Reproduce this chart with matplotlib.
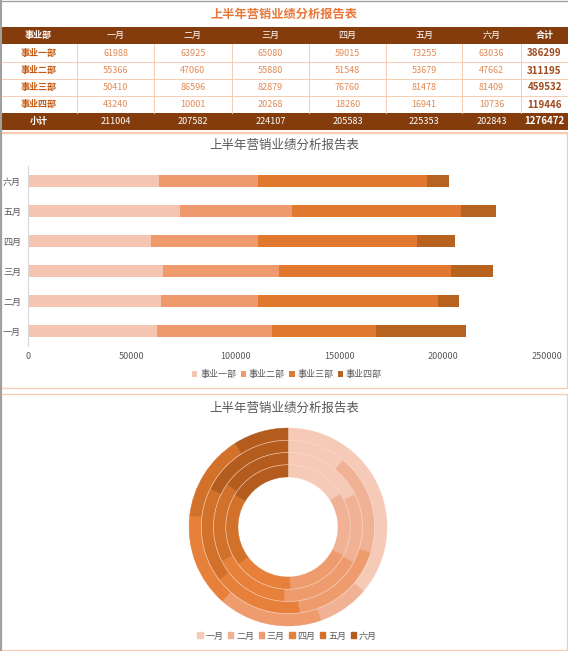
import numpy as np
import matplotlib
matplotlib.use("Agg")
import matplotlib.pyplot as plt
from matplotlib.patches import Rectangle, Patch, Circle

plt.rcParams['font.family'] = ['Noto Sans CJK SC', 'DejaVu Sans']

title = "上半年营销业绩分析报告表"
months = ["一月", "二月", "三月", "四月", "五月", "六月"]
depts = ["事业一部", "事业二部", "事业三部", "事业四部"]
sales_1 = [61988, 63925, 65080, 59015, 73255, 63036]
sales_2 = [55366, 47060, 55880, 51548, 53679, 47662]
sales_3 = [50410, 86596, 82879, 76760, 81478, 81409]
sales_4 = [43240, 10001, 20268, 18260, 16941, 10736]

data = np.array([sales_1, sales_2, sales_3, sales_4])
row_tot = data.sum(axis=1)
col_tot = data.sum(axis=0)

dept_colors = ["#F4C6B1", "#EF9A6C", "#E1782F", "#B8621F"]
month_colors = ["#F5CAB7", "#F1B195", "#EE9B6E", "#E6803A", "#D2712A", "#B45C1E"]
brown = "#843C0C"
peach = "#F6CDB4"

W, H = 568, 651
fig = plt.figure(figsize=(W / 100, H / 100), dpi=100)
bg = fig.add_axes([0, 0, 1, 1])
bg.set_xlim(0, W)
bg.set_ylim(H, 0)
bg.axis("off")

# ---- table ----
bg.text(W / 2, 14, title, ha="center", va="center", fontsize=8.8, fontweight="bold", color="#E8773A")
col_edges = [0, 77, 154, 232, 309, 386, 462, 521, 568]
row_edges = [27, 44, 62, 79, 96, 113, 130]
bg.add_patch(Rectangle((0, row_edges[0]), W, row_edges[1] - row_edges[0], color=brown, lw=0))
bg.add_patch(Rectangle((0, row_edges[5]), W, row_edges[6] - row_edges[5], color=brown, lw=0))
for y in row_edges[2:5]:
    bg.plot([0, W], [y, y], color=peach, lw=0.7)
for x in col_edges[1:-1]:
    bg.plot([x, x], [row_edges[1], row_edges[5]], color=peach, lw=0.7)
bg.plot([0, W], [row_edges[6] + 2, row_edges[6] + 2], color=peach, lw=1)

def cx(i):
    return (col_edges[i] + col_edges[i + 1]) / 2

def cy(j):
    return (row_edges[j] + row_edges[j + 1]) / 2

header = ["事业部"] + months + ["合计"]
for i, h in enumerate(header):
    bg.text(cx(i), cy(0), h, ha="center", va="center", fontsize=6.5, color="white",
            fontweight="bold" if i in (0, 7) else "normal")
for j, d in enumerate(depts):
    bg.text(cx(0), cy(j + 1), d, ha="center", va="center", fontsize=6.5, color="#C55A11", fontweight="bold")
    for i in range(6):
        bg.text(cx(i + 1), cy(j + 1), str(data[j, i]), ha="center", va="center", fontsize=6.5, color="#E08A55")
    bg.text(cx(7), cy(j + 1), str(row_tot[j]), ha="center", va="center", fontsize=7, color="#9E4A1C", fontweight="bold")
bg.text(cx(0), cy(5), "小计", ha="center", va="center", fontsize=6.5, color="white", fontweight="bold")
for i in range(6):
    bg.text(cx(i + 1), cy(5), str(col_tot[i]), ha="center", va="center", fontsize=6.5, color="white")
bg.text(cx(7), cy(5), str(row_tot.sum()), ha="center", va="center", fontsize=7, color="white", fontweight="bold")

# panel borders
bg.add_patch(Rectangle((1, 133), W - 2, 255, fill=False, ec=peach, lw=1))
bg.add_patch(Rectangle((1, 394), W - 2, 256, fill=False, ec=peach, lw=1))
bg.plot([0.5, 0.5], [0, H], color="#A0A0A0", lw=1.5)
bg.plot([0, W], [0.5, 0.5], color="#A0A0A0", lw=1)

# ---- stacked bar chart ----
bg.text(W / 2, 145, title, ha="center", va="center", fontsize=9, color="#595959")
ax = fig.add_axes([28 / W, 1 - 346 / H, 519 / W, 180 / H])
y = np.arange(len(months))
left = np.zeros(len(months))
for k in range(len(depts)):
    ax.barh(y, data[k], height=0.4, left=left, color=dept_colors[k], label=depts[k])
    left += data[k]
ax.set_xlim(0, 250000)
ax.set_ylim(-0.5, 5.5)
ax.set_yticks(y)
ax.set_yticklabels(months)
ax.set_xticks(np.arange(0, 250001, 50000))
ax.tick_params(length=0, labelsize=6.5, colors="#595959")
ax.tick_params(axis="y", pad=5)
ax.tick_params(axis="x", pad=4)
for s in ["top", "right", "bottom"]:
    ax.spines[s].set_visible(False)
ax.spines["left"].set_color("#D9D9D9")
ax.patch.set_alpha(0)
ax.legend(loc="center", bbox_to_anchor=(287 / W, 1 - 375 / H), bbox_transform=fig.transFigure,
          ncol=4, frameon=False, fontsize=6.5, handlelength=0.6, handleheight=0.6,
          handletextpad=0.3, columnspacing=0.5, labelcolor="#595959")

# ---- donut chart ----
bg.text(W / 2, 408, title, ha="center", va="center", fontsize=9, color="#595959")
R = 104
ax2 = fig.add_axes([(288 - R) / W, 1 - (527 + R) / H, 2 * R / W, 2 * R / H])
r_out, r_in = 99 / R, 50 / R
ring = (r_out - r_in) / len(depts)
for k in range(len(depts)):
    wedges, _ = ax2.pie(data[k], radius=r_in + ring * (k + 1), colors=month_colors, startangle=90,
                        counterclock=False, wedgeprops=dict(width=ring, linewidth=0.3))
    for w in wedges:
        w.set_edgecolor(w.get_facecolor())
# thin light lines between the rings
for k in range(1, len(depts)):
    ax2.add_patch(Circle((0, 0), r_in + ring * k, fill=False, ec="#FADCCB", lw=0.5, alpha=0.8))
ax2.set_xlim(-1, 1)
ax2.set_ylim(-1, 1)
ax2.set_aspect("equal")
handles = [Patch(color=c, label=m) for c, m in zip(month_colors, months)]
fig.legend(handles=handles, loc="center", bbox_to_anchor=(287 / W, 1 - 636 / H), ncol=6,
           frameon=False, fontsize=6.5, handlelength=0.6, handleheight=0.6,
           handletextpad=0.3, columnspacing=0.5, labelcolor="#595959")

fig.savefig("out.png", dpi=100)
